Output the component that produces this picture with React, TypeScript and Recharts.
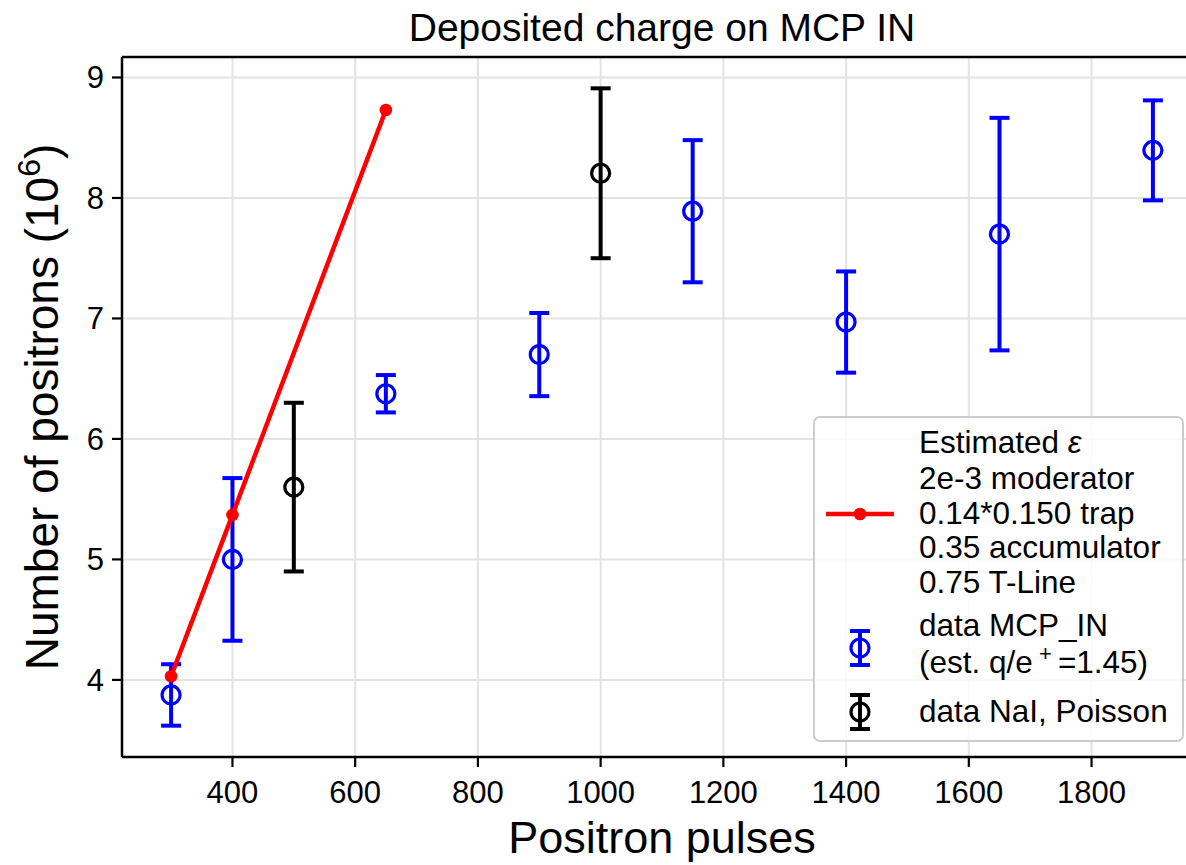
import {
  ComposedChart,
  Scatter,
  Line,
  XAxis,
  YAxis,
  CartesianGrid,
  ErrorBar,
  ReferenceLine,
} from "recharts";

// MCP_IN data (blue)
const mcpPulses = [300, 400, 650, 900, 1150, 1400, 1650, 1900];
const mcpPositrons = [3.875, 5.0, 6.375, 6.7, 7.89, 6.97, 7.7, 8.395];
const mcpError = [0.255, 0.675, 0.155, 0.345, 0.59, 0.42, 0.965, 0.415];

// NaI, Poisson (black)
const naiPulses = [500, 1000];
const naiPositrons = [5.6, 8.205];
const naiError = [0.7, 0.705];

// estimated efficiency line (red)
const estPulses = [300, 400, 650];
const estPositrons = [4.03, 5.37, 8.73];

const xTicks = [400, 600, 800, 1000, 1200, 1400, 1600, 1800];
const yTicks = [4, 5, 6, 7, 8, 9];
const xDomain = [220, 1980];
const yDomain = [3.36, 9.17];

const legendLines = [
  "2e-3 moderator",
  "0.14*0.150 trap",
  "0.35 accumulator",
  "0.75 T-Line",
];

const FONT = '"Liberation Sans", Arial, Helvetica, sans-serif';

const mcpData = mcpPulses.map((x, i) => ({ x, y: mcpPositrons[i], err: mcpError[i] }));
const naiData = naiPulses.map((x, i) => ({ x, y: naiPositrons[i], err: naiError[i] }));
const estData = estPulses.map((x, i) => ({ x, y: estPositrons[i] }));

const ring = (color: string) => (props: any) =>
  <circle cx={props.cx} cy={props.cy} r={9} fill="none" stroke={color} strokeWidth={3.2} />;

const YLabel = (props: any) => {
  const vb = props.viewBox || { y: 57, height: 700 };
  const cx = 58;
  const cy = vb.y + vb.height / 2;
  return (
    <text
      x={cx}
      y={cy}
      transform={`rotate(-90, ${cx}, ${cy})`}
      textAnchor="middle"
      fontSize={46}
      fontFamily={FONT}
      fill="#000"
    >
      Number of positrons (10
      <tspan dy={-18} fontSize={32}>6</tspan>
      <tspan dy={18}>)</tspan>
    </text>
  );
};

const XLabel = (props: any) => {
  const vb = props.viewBox || { x: 122, width: 1080 };
  return (
    <text x={vb.x + vb.width / 2} y={853} textAnchor="middle" fontSize={45} fontFamily={FONT} fill="#000">
      Positron pulses
    </text>
  );
};

const ErrHandle = ({ x, y, color }: { x: number; y: number; color: string }) => (
  <g stroke={color} fill="none">
    <line x1={x} y1={y - 17} x2={x} y2={y + 17} strokeWidth={4} />
    <line x1={x - 10} y1={y - 17} x2={x + 10} y2={y - 17} strokeWidth={4} />
    <line x1={x - 10} y1={y + 17} x2={x + 10} y2={y + 17} strokeWidth={4} />
    <circle cx={x} cy={y} r={9} strokeWidth={3.2} />
  </g>
);

const Overlay = () => {
  const lx = 814;
  const ly = 417;
  const tx = lx + 105;
  return (
    <svg
      width={1186}
      height={865}
      style={{ position: "absolute", left: 0, top: 0, pointerEvents: "none" }}
      fontFamily={FONT}
    >
      <text x={662} y={41} textAnchor="middle" fontSize={39} fill="#000">
        Deposited charge on MCP IN
      </text>
      <rect
        x={lx}
        y={ly}
        width={369}
        height={324}
        rx={6}
        fill="rgba(255,255,255,0.8)"
        stroke="#cccccc"
        strokeWidth={2}
      />
      <line x1={lx + 12} y1={ly + 97} x2={lx + 80} y2={ly + 97} stroke="#ff0000" strokeWidth={4.5} />
      <circle cx={lx + 46} cy={ly + 97} r={6.3} fill="#ff0000" />
      <g fontSize={31.5} fill="#000">
        <text x={tx} y={ly + 36}>
          Estimated <tspan fontStyle="italic">ε</tspan>
        </text>
        {legendLines.map((t, i) => (
          <text key={t} x={tx} y={ly + 72 + i * 34.5}>
            {t}
          </text>
        ))}
        <text x={tx} y={ly + 219}>
          data MCP_IN
        </text>
        <text x={tx} y={ly + 256}>
          (est. q/e
          <tspan dy={-12} fontSize={22}> + </tspan>
          <tspan dy={12}>=1.45)</tspan>
        </text>
        <text x={tx} y={ly + 305}>
          data NaI, Poisson
        </text>
      </g>
      <ErrHandle x={lx + 46} y={ly + 231} color="#0000ff" />
      <ErrHandle x={lx + 46} y={ly + 295} color="#000000" />
    </svg>
  );
};

export default function App() {
  return (
    <div
      style={{
        position: "absolute",
        left: 0,
        top: 0,
        width: 1186,
        height: 865,
        overflow: "hidden",
        background: "#fff",
      }}
    >
      <ComposedChart
        width={1220}
        height={865}
        margin={{ top: 57, right: 18, bottom: 0, left: 0 }}
      >
        <CartesianGrid stroke="#e3e3e3" strokeWidth={2} />
        <XAxis
          type="number"
          dataKey="x"
          domain={xDomain}
          ticks={xTicks}
          allowDataOverflow
          height={108}
          tick={{ fontSize: 31, fill: "#000", fontFamily: FONT }}
          tickSize={10}
          tickMargin={14}
          axisLine={{ stroke: "#000", strokeWidth: 2.5 }}
          tickLine={{ stroke: "#000", strokeWidth: 2.2 }}
          label={<XLabel />}
        />
        <YAxis
          type="number"
          dataKey="y"
          domain={yDomain}
          ticks={yTicks}
          allowDataOverflow
          width={122}
          tick={{ fontSize: 31, fill: "#000", fontFamily: FONT }}
          tickSize={10}
          tickMargin={8}
          axisLine={{ stroke: "#000", strokeWidth: 2.5 }}
          tickLine={{ stroke: "#000", strokeWidth: 2.2 }}
          label={<YLabel />}
        />
        <ReferenceLine y={yDomain[1]} stroke="#000" strokeWidth={2.5} ifOverflow="visible" />
        <Scatter data={mcpData} fill="#0000ff" shape={ring("#0000ff")} isAnimationActive={false}>
          <ErrorBar dataKey="err" direction="y" width={10} stroke="#0000ff" strokeWidth={4} />
        </Scatter>
        <Scatter data={naiData} fill="#000" shape={ring("#000000")} isAnimationActive={false}>
          <ErrorBar dataKey="err" direction="y" width={10} stroke="#000000" strokeWidth={4} />
        </Scatter>
        <Line
          data={estData}
          dataKey="y"
          stroke="#ff0000"
          strokeWidth={4.5}
          dot={{ r: 6.3, fill: "#ff0000", stroke: "#ff0000", strokeWidth: 0 }}
          activeDot={false}
          isAnimationActive={false}
        />
      </ComposedChart>
      <Overlay />
    </div>
  );
}
